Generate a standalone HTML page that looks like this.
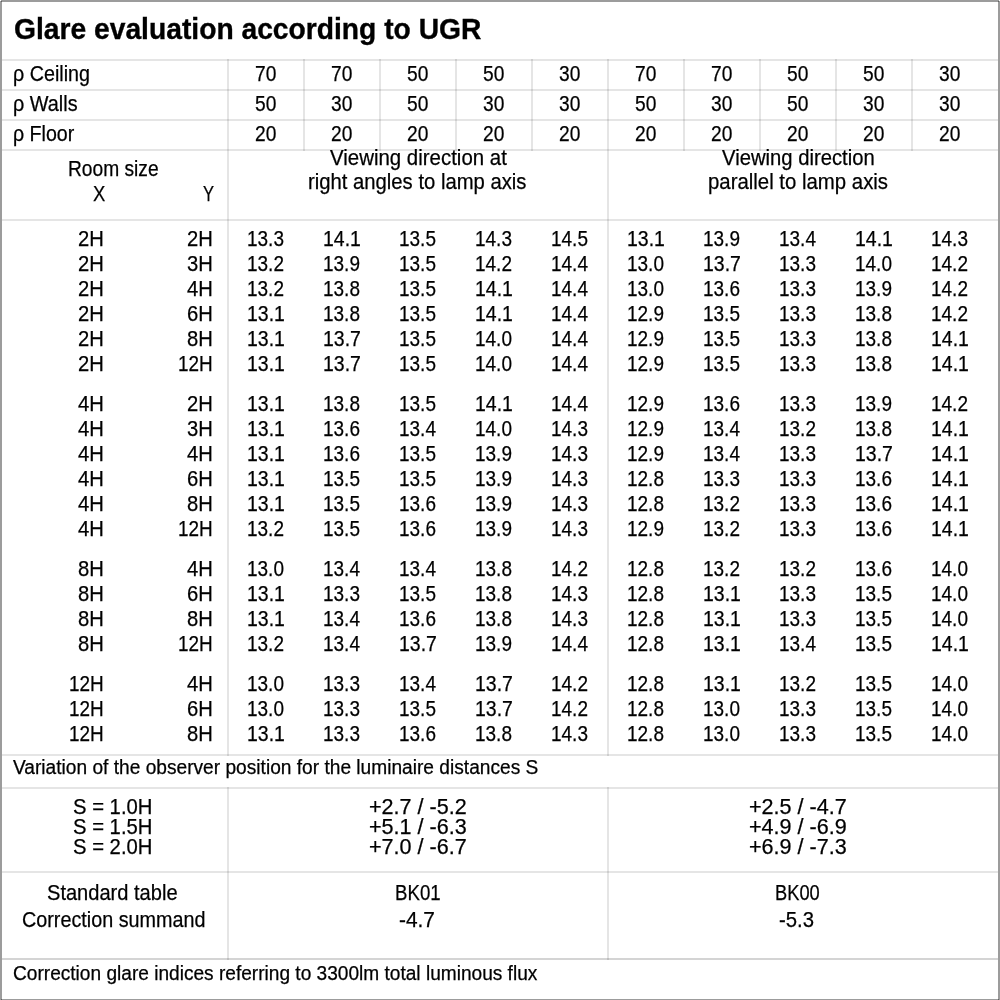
<!DOCTYPE html>
<html><head><meta charset="utf-8"><style>
html,body{margin:0;padding:0;background:#fff}
body{width:1000px;height:1000px;position:relative;overflow:hidden;font-family:"Liberation Sans",sans-serif;color:#000}
span{position:absolute;white-space:pre;transform-origin:0 0;-webkit-text-stroke:0.25px #000}
.l{position:absolute;mix-blend-mode:multiply}
.b{position:absolute;left:0;top:0;width:1000px;height:1000px;box-sizing:border-box;border-style:solid;border-color:#9c9c9c;border-width:2px 2px 1px 2px}
</style></head><body>
<div class="l" style="left:2px;top:59px;width:996px;height:2px;background:#e5e5e5"></div><div class="l" style="left:2px;top:89px;width:996px;height:2px;background:#e5e5e5"></div><div class="l" style="left:2px;top:119px;width:996px;height:2px;background:#e5e5e5"></div><div class="l" style="left:2px;top:149px;width:996px;height:2px;background:#e5e5e5"></div><div class="l" style="left:2px;top:219px;width:996px;height:2px;background:#e5e5e5"></div><div class="l" style="left:2px;top:754px;width:996px;height:2px;background:#e5e5e5"></div><div class="l" style="left:2px;top:787px;width:996px;height:2px;background:#e5e5e5"></div><div class="l" style="left:2px;top:871px;width:996px;height:2px;background:#e5e5e5"></div><div class="l" style="left:2px;top:958px;width:996px;height:2px;background:#d4d4d4"></div><div class="l" style="left:227px;top:59px;width:2px;height:697px;background:#e5e5e5"></div><div class="l" style="left:227px;top:787px;width:2px;height:173px;background:#e5e5e5"></div><div class="l" style="left:607px;top:59px;width:2px;height:697px;background:#e5e5e5"></div><div class="l" style="left:607px;top:787px;width:2px;height:173px;background:#e5e5e5"></div><div class="l" style="left:303px;top:59px;width:2px;height:92px;background:#e5e5e5"></div><div class="l" style="left:379px;top:59px;width:2px;height:92px;background:#e5e5e5"></div><div class="l" style="left:455px;top:59px;width:2px;height:92px;background:#e5e5e5"></div><div class="l" style="left:531px;top:59px;width:2px;height:92px;background:#e5e5e5"></div><div class="l" style="left:683px;top:59px;width:2px;height:92px;background:#e5e5e5"></div><div class="l" style="left:759px;top:59px;width:2px;height:92px;background:#e5e5e5"></div><div class="l" style="left:835px;top:59px;width:2px;height:92px;background:#e5e5e5"></div><div class="l" style="left:911px;top:59px;width:2px;height:92px;background:#e5e5e5"></div>
<div class="l" style="left:1px;top:0;width:998px;height:2px;background:#9c9c9c"></div><div class="l" style="left:0;top:1px;width:2px;height:999px;background:#9c9c9c"></div><div class="l" style="left:998px;top:1px;width:2px;height:999px;background:#9c9c9c"></div><div class="l" style="left:1px;top:999px;width:998px;height:1px;background:#9c9c9c"></div>
<span style="left:13.62px;top:15.22px;font-size:28.8px;line-height:28.8px;font-weight:700;-webkit-text-stroke:0.35px #000;transform:scaleX(0.9802)">Glare evaluation according to UGR</span><span style="left:12.88px;top:63.80px;font-size:21.5px;line-height:21.5px;transform:scaleX(0.9171)">ρ Ceiling</span><span style="left:12.88px;top:93.80px;font-size:21.5px;line-height:21.5px;transform:scaleX(0.9232)">ρ Walls</span><span style="left:12.89px;top:123.80px;font-size:21.5px;line-height:21.5px;transform:scaleX(0.9121)">ρ Floor</span><span style="left:255.36px;top:63.80px;font-size:21.5px;line-height:21.5px;transform:scaleX(0.8913)">70</span><span style="left:331.36px;top:63.80px;font-size:21.5px;line-height:21.5px;transform:scaleX(0.8913)">70</span><span style="left:407.36px;top:63.80px;font-size:21.5px;line-height:21.5px;transform:scaleX(0.8913)">50</span><span style="left:483.36px;top:63.80px;font-size:21.5px;line-height:21.5px;transform:scaleX(0.8913)">50</span><span style="left:559.36px;top:63.80px;font-size:21.5px;line-height:21.5px;transform:scaleX(0.8913)">30</span><span style="left:635.36px;top:63.80px;font-size:21.5px;line-height:21.5px;transform:scaleX(0.8913)">70</span><span style="left:711.36px;top:63.80px;font-size:21.5px;line-height:21.5px;transform:scaleX(0.8913)">70</span><span style="left:787.36px;top:63.80px;font-size:21.5px;line-height:21.5px;transform:scaleX(0.8913)">50</span><span style="left:863.36px;top:63.80px;font-size:21.5px;line-height:21.5px;transform:scaleX(0.8913)">50</span><span style="left:939.36px;top:63.80px;font-size:21.5px;line-height:21.5px;transform:scaleX(0.8913)">30</span><span style="left:255.36px;top:93.80px;font-size:21.5px;line-height:21.5px;transform:scaleX(0.8913)">50</span><span style="left:331.36px;top:93.80px;font-size:21.5px;line-height:21.5px;transform:scaleX(0.8913)">30</span><span style="left:407.36px;top:93.80px;font-size:21.5px;line-height:21.5px;transform:scaleX(0.8913)">50</span><span style="left:483.36px;top:93.80px;font-size:21.5px;line-height:21.5px;transform:scaleX(0.8913)">30</span><span style="left:559.36px;top:93.80px;font-size:21.5px;line-height:21.5px;transform:scaleX(0.8913)">30</span><span style="left:635.36px;top:93.80px;font-size:21.5px;line-height:21.5px;transform:scaleX(0.8913)">50</span><span style="left:711.36px;top:93.80px;font-size:21.5px;line-height:21.5px;transform:scaleX(0.8913)">30</span><span style="left:787.36px;top:93.80px;font-size:21.5px;line-height:21.5px;transform:scaleX(0.8913)">50</span><span style="left:863.36px;top:93.80px;font-size:21.5px;line-height:21.5px;transform:scaleX(0.8913)">30</span><span style="left:939.36px;top:93.80px;font-size:21.5px;line-height:21.5px;transform:scaleX(0.8913)">30</span><span style="left:255.36px;top:123.80px;font-size:21.5px;line-height:21.5px;transform:scaleX(0.8913)">20</span><span style="left:331.36px;top:123.80px;font-size:21.5px;line-height:21.5px;transform:scaleX(0.8913)">20</span><span style="left:407.36px;top:123.80px;font-size:21.5px;line-height:21.5px;transform:scaleX(0.8913)">20</span><span style="left:483.36px;top:123.80px;font-size:21.5px;line-height:21.5px;transform:scaleX(0.8913)">20</span><span style="left:559.36px;top:123.80px;font-size:21.5px;line-height:21.5px;transform:scaleX(0.8913)">20</span><span style="left:635.36px;top:123.80px;font-size:21.5px;line-height:21.5px;transform:scaleX(0.8913)">20</span><span style="left:711.36px;top:123.80px;font-size:21.5px;line-height:21.5px;transform:scaleX(0.8913)">20</span><span style="left:787.36px;top:123.80px;font-size:21.5px;line-height:21.5px;transform:scaleX(0.8913)">20</span><span style="left:863.36px;top:123.80px;font-size:21.5px;line-height:21.5px;transform:scaleX(0.8913)">20</span><span style="left:939.36px;top:123.80px;font-size:21.5px;line-height:21.5px;transform:scaleX(0.8913)">20</span><span style="left:67.86px;top:158.55px;font-size:21.5px;line-height:21.5px;transform:scaleX(0.8925)">Room size</span><span style="left:92.80px;top:183.55px;font-size:21.5px;line-height:21.5px;transform:scaleX(0.8571)">X</span><span style="left:203.00px;top:183.55px;font-size:21.5px;line-height:21.5px;transform:scaleX(0.7679)">Y</span><span style="left:330.20px;top:148.20px;font-size:21.5px;line-height:21.5px;transform:scaleX(0.9505)">Viewing direction at</span><span style="left:308.16px;top:172.10px;font-size:21.5px;line-height:21.5px;transform:scaleX(0.9424)">right angles to lamp axis</span><span style="left:722.30px;top:148.20px;font-size:21.5px;line-height:21.5px;transform:scaleX(0.9414)">Viewing direction</span><span style="left:707.95px;top:172.10px;font-size:21.5px;line-height:21.5px;transform:scaleX(0.9476)">parallel to lamp axis</span><span style="left:77.92px;top:229.05px;font-size:21.5px;line-height:21.5px;transform:scaleX(0.9400)">2H</span><span style="left:186.82px;top:229.05px;font-size:21.5px;line-height:21.5px;transform:scaleX(0.9400)">2H</span><span style="left:247.02px;top:229.05px;font-size:21.5px;line-height:21.5px;transform:scaleX(0.8829)">13.3</span><span style="left:323.00px;top:229.05px;font-size:21.5px;line-height:21.5px;transform:scaleX(0.9050)">14.1</span><span style="left:399.02px;top:229.05px;font-size:21.5px;line-height:21.5px;transform:scaleX(0.8829)">13.5</span><span style="left:475.02px;top:229.05px;font-size:21.5px;line-height:21.5px;transform:scaleX(0.8829)">14.3</span><span style="left:551.02px;top:229.05px;font-size:21.5px;line-height:21.5px;transform:scaleX(0.8829)">14.5</span><span style="left:627.00px;top:229.05px;font-size:21.5px;line-height:21.5px;transform:scaleX(0.9050)">13.1</span><span style="left:703.02px;top:229.05px;font-size:21.5px;line-height:21.5px;transform:scaleX(0.8829)">13.9</span><span style="left:779.02px;top:229.05px;font-size:21.5px;line-height:21.5px;transform:scaleX(0.8829)">13.4</span><span style="left:855.00px;top:229.05px;font-size:21.5px;line-height:21.5px;transform:scaleX(0.9050)">14.1</span><span style="left:931.02px;top:229.05px;font-size:21.5px;line-height:21.5px;transform:scaleX(0.8829)">14.3</span><span style="left:77.92px;top:254.05px;font-size:21.5px;line-height:21.5px;transform:scaleX(0.9400)">2H</span><span style="left:186.82px;top:254.05px;font-size:21.5px;line-height:21.5px;transform:scaleX(0.9400)">3H</span><span style="left:247.02px;top:254.05px;font-size:21.5px;line-height:21.5px;transform:scaleX(0.8829)">13.2</span><span style="left:323.02px;top:254.05px;font-size:21.5px;line-height:21.5px;transform:scaleX(0.8829)">13.9</span><span style="left:399.02px;top:254.05px;font-size:21.5px;line-height:21.5px;transform:scaleX(0.8829)">13.5</span><span style="left:475.02px;top:254.05px;font-size:21.5px;line-height:21.5px;transform:scaleX(0.8829)">14.2</span><span style="left:551.02px;top:254.05px;font-size:21.5px;line-height:21.5px;transform:scaleX(0.8829)">14.4</span><span style="left:627.02px;top:254.05px;font-size:21.5px;line-height:21.5px;transform:scaleX(0.8829)">13.0</span><span style="left:703.00px;top:254.05px;font-size:21.5px;line-height:21.5px;transform:scaleX(0.9050)">13.7</span><span style="left:779.02px;top:254.05px;font-size:21.5px;line-height:21.5px;transform:scaleX(0.8829)">13.3</span><span style="left:855.02px;top:254.05px;font-size:21.5px;line-height:21.5px;transform:scaleX(0.8829)">14.0</span><span style="left:931.02px;top:254.05px;font-size:21.5px;line-height:21.5px;transform:scaleX(0.8829)">14.2</span><span style="left:77.92px;top:279.05px;font-size:21.5px;line-height:21.5px;transform:scaleX(0.9400)">2H</span><span style="left:186.82px;top:279.05px;font-size:21.5px;line-height:21.5px;transform:scaleX(0.9400)">4H</span><span style="left:247.02px;top:279.05px;font-size:21.5px;line-height:21.5px;transform:scaleX(0.8829)">13.2</span><span style="left:323.02px;top:279.05px;font-size:21.5px;line-height:21.5px;transform:scaleX(0.8829)">13.8</span><span style="left:399.02px;top:279.05px;font-size:21.5px;line-height:21.5px;transform:scaleX(0.8829)">13.5</span><span style="left:475.00px;top:279.05px;font-size:21.5px;line-height:21.5px;transform:scaleX(0.9050)">14.1</span><span style="left:551.02px;top:279.05px;font-size:21.5px;line-height:21.5px;transform:scaleX(0.8829)">14.4</span><span style="left:627.02px;top:279.05px;font-size:21.5px;line-height:21.5px;transform:scaleX(0.8829)">13.0</span><span style="left:703.02px;top:279.05px;font-size:21.5px;line-height:21.5px;transform:scaleX(0.8829)">13.6</span><span style="left:779.02px;top:279.05px;font-size:21.5px;line-height:21.5px;transform:scaleX(0.8829)">13.3</span><span style="left:855.02px;top:279.05px;font-size:21.5px;line-height:21.5px;transform:scaleX(0.8829)">13.9</span><span style="left:931.02px;top:279.05px;font-size:21.5px;line-height:21.5px;transform:scaleX(0.8829)">14.2</span><span style="left:77.92px;top:304.05px;font-size:21.5px;line-height:21.5px;transform:scaleX(0.9400)">2H</span><span style="left:186.82px;top:304.05px;font-size:21.5px;line-height:21.5px;transform:scaleX(0.9400)">6H</span><span style="left:247.00px;top:304.05px;font-size:21.5px;line-height:21.5px;transform:scaleX(0.9050)">13.1</span><span style="left:323.02px;top:304.05px;font-size:21.5px;line-height:21.5px;transform:scaleX(0.8829)">13.8</span><span style="left:399.02px;top:304.05px;font-size:21.5px;line-height:21.5px;transform:scaleX(0.8829)">13.5</span><span style="left:475.00px;top:304.05px;font-size:21.5px;line-height:21.5px;transform:scaleX(0.9050)">14.1</span><span style="left:551.02px;top:304.05px;font-size:21.5px;line-height:21.5px;transform:scaleX(0.8829)">14.4</span><span style="left:627.02px;top:304.05px;font-size:21.5px;line-height:21.5px;transform:scaleX(0.8829)">12.9</span><span style="left:703.02px;top:304.05px;font-size:21.5px;line-height:21.5px;transform:scaleX(0.8829)">13.5</span><span style="left:779.02px;top:304.05px;font-size:21.5px;line-height:21.5px;transform:scaleX(0.8829)">13.3</span><span style="left:855.02px;top:304.05px;font-size:21.5px;line-height:21.5px;transform:scaleX(0.8829)">13.8</span><span style="left:931.02px;top:304.05px;font-size:21.5px;line-height:21.5px;transform:scaleX(0.8829)">14.2</span><span style="left:77.92px;top:329.05px;font-size:21.5px;line-height:21.5px;transform:scaleX(0.9400)">2H</span><span style="left:186.82px;top:329.05px;font-size:21.5px;line-height:21.5px;transform:scaleX(0.9400)">8H</span><span style="left:247.00px;top:329.05px;font-size:21.5px;line-height:21.5px;transform:scaleX(0.9050)">13.1</span><span style="left:323.00px;top:329.05px;font-size:21.5px;line-height:21.5px;transform:scaleX(0.9050)">13.7</span><span style="left:399.02px;top:329.05px;font-size:21.5px;line-height:21.5px;transform:scaleX(0.8829)">13.5</span><span style="left:475.02px;top:329.05px;font-size:21.5px;line-height:21.5px;transform:scaleX(0.8829)">14.0</span><span style="left:551.02px;top:329.05px;font-size:21.5px;line-height:21.5px;transform:scaleX(0.8829)">14.4</span><span style="left:627.02px;top:329.05px;font-size:21.5px;line-height:21.5px;transform:scaleX(0.8829)">12.9</span><span style="left:703.02px;top:329.05px;font-size:21.5px;line-height:21.5px;transform:scaleX(0.8829)">13.5</span><span style="left:779.02px;top:329.05px;font-size:21.5px;line-height:21.5px;transform:scaleX(0.8829)">13.3</span><span style="left:855.02px;top:329.05px;font-size:21.5px;line-height:21.5px;transform:scaleX(0.8829)">13.8</span><span style="left:931.00px;top:329.05px;font-size:21.5px;line-height:21.5px;transform:scaleX(0.9050)">14.1</span><span style="left:77.92px;top:354.05px;font-size:21.5px;line-height:21.5px;transform:scaleX(0.9400)">2H</span><span style="left:177.88px;top:354.05px;font-size:21.5px;line-height:21.5px;transform:scaleX(0.8800)">12H</span><span style="left:247.00px;top:354.05px;font-size:21.5px;line-height:21.5px;transform:scaleX(0.9050)">13.1</span><span style="left:323.00px;top:354.05px;font-size:21.5px;line-height:21.5px;transform:scaleX(0.9050)">13.7</span><span style="left:399.02px;top:354.05px;font-size:21.5px;line-height:21.5px;transform:scaleX(0.8829)">13.5</span><span style="left:475.02px;top:354.05px;font-size:21.5px;line-height:21.5px;transform:scaleX(0.8829)">14.0</span><span style="left:551.02px;top:354.05px;font-size:21.5px;line-height:21.5px;transform:scaleX(0.8829)">14.4</span><span style="left:627.02px;top:354.05px;font-size:21.5px;line-height:21.5px;transform:scaleX(0.8829)">12.9</span><span style="left:703.02px;top:354.05px;font-size:21.5px;line-height:21.5px;transform:scaleX(0.8829)">13.5</span><span style="left:779.02px;top:354.05px;font-size:21.5px;line-height:21.5px;transform:scaleX(0.8829)">13.3</span><span style="left:855.02px;top:354.05px;font-size:21.5px;line-height:21.5px;transform:scaleX(0.8829)">13.8</span><span style="left:931.00px;top:354.05px;font-size:21.5px;line-height:21.5px;transform:scaleX(0.9050)">14.1</span><span style="left:77.92px;top:394.05px;font-size:21.5px;line-height:21.5px;transform:scaleX(0.9400)">4H</span><span style="left:186.82px;top:394.05px;font-size:21.5px;line-height:21.5px;transform:scaleX(0.9400)">2H</span><span style="left:247.00px;top:394.05px;font-size:21.5px;line-height:21.5px;transform:scaleX(0.9050)">13.1</span><span style="left:323.02px;top:394.05px;font-size:21.5px;line-height:21.5px;transform:scaleX(0.8829)">13.8</span><span style="left:399.02px;top:394.05px;font-size:21.5px;line-height:21.5px;transform:scaleX(0.8829)">13.5</span><span style="left:475.00px;top:394.05px;font-size:21.5px;line-height:21.5px;transform:scaleX(0.9050)">14.1</span><span style="left:551.02px;top:394.05px;font-size:21.5px;line-height:21.5px;transform:scaleX(0.8829)">14.4</span><span style="left:627.02px;top:394.05px;font-size:21.5px;line-height:21.5px;transform:scaleX(0.8829)">12.9</span><span style="left:703.02px;top:394.05px;font-size:21.5px;line-height:21.5px;transform:scaleX(0.8829)">13.6</span><span style="left:779.02px;top:394.05px;font-size:21.5px;line-height:21.5px;transform:scaleX(0.8829)">13.3</span><span style="left:855.02px;top:394.05px;font-size:21.5px;line-height:21.5px;transform:scaleX(0.8829)">13.9</span><span style="left:931.02px;top:394.05px;font-size:21.5px;line-height:21.5px;transform:scaleX(0.8829)">14.2</span><span style="left:77.92px;top:419.05px;font-size:21.5px;line-height:21.5px;transform:scaleX(0.9400)">4H</span><span style="left:186.82px;top:419.05px;font-size:21.5px;line-height:21.5px;transform:scaleX(0.9400)">3H</span><span style="left:247.00px;top:419.05px;font-size:21.5px;line-height:21.5px;transform:scaleX(0.9050)">13.1</span><span style="left:323.02px;top:419.05px;font-size:21.5px;line-height:21.5px;transform:scaleX(0.8829)">13.6</span><span style="left:399.02px;top:419.05px;font-size:21.5px;line-height:21.5px;transform:scaleX(0.8829)">13.4</span><span style="left:475.02px;top:419.05px;font-size:21.5px;line-height:21.5px;transform:scaleX(0.8829)">14.0</span><span style="left:551.02px;top:419.05px;font-size:21.5px;line-height:21.5px;transform:scaleX(0.8829)">14.3</span><span style="left:627.02px;top:419.05px;font-size:21.5px;line-height:21.5px;transform:scaleX(0.8829)">12.9</span><span style="left:703.02px;top:419.05px;font-size:21.5px;line-height:21.5px;transform:scaleX(0.8829)">13.4</span><span style="left:779.02px;top:419.05px;font-size:21.5px;line-height:21.5px;transform:scaleX(0.8829)">13.2</span><span style="left:855.02px;top:419.05px;font-size:21.5px;line-height:21.5px;transform:scaleX(0.8829)">13.8</span><span style="left:931.00px;top:419.05px;font-size:21.5px;line-height:21.5px;transform:scaleX(0.9050)">14.1</span><span style="left:77.92px;top:444.05px;font-size:21.5px;line-height:21.5px;transform:scaleX(0.9400)">4H</span><span style="left:186.82px;top:444.05px;font-size:21.5px;line-height:21.5px;transform:scaleX(0.9400)">4H</span><span style="left:247.00px;top:444.05px;font-size:21.5px;line-height:21.5px;transform:scaleX(0.9050)">13.1</span><span style="left:323.02px;top:444.05px;font-size:21.5px;line-height:21.5px;transform:scaleX(0.8829)">13.6</span><span style="left:399.02px;top:444.05px;font-size:21.5px;line-height:21.5px;transform:scaleX(0.8829)">13.5</span><span style="left:475.02px;top:444.05px;font-size:21.5px;line-height:21.5px;transform:scaleX(0.8829)">13.9</span><span style="left:551.02px;top:444.05px;font-size:21.5px;line-height:21.5px;transform:scaleX(0.8829)">14.3</span><span style="left:627.02px;top:444.05px;font-size:21.5px;line-height:21.5px;transform:scaleX(0.8829)">12.9</span><span style="left:703.02px;top:444.05px;font-size:21.5px;line-height:21.5px;transform:scaleX(0.8829)">13.4</span><span style="left:779.02px;top:444.05px;font-size:21.5px;line-height:21.5px;transform:scaleX(0.8829)">13.3</span><span style="left:855.00px;top:444.05px;font-size:21.5px;line-height:21.5px;transform:scaleX(0.9050)">13.7</span><span style="left:931.00px;top:444.05px;font-size:21.5px;line-height:21.5px;transform:scaleX(0.9050)">14.1</span><span style="left:77.92px;top:469.05px;font-size:21.5px;line-height:21.5px;transform:scaleX(0.9400)">4H</span><span style="left:186.82px;top:469.05px;font-size:21.5px;line-height:21.5px;transform:scaleX(0.9400)">6H</span><span style="left:247.00px;top:469.05px;font-size:21.5px;line-height:21.5px;transform:scaleX(0.9050)">13.1</span><span style="left:323.02px;top:469.05px;font-size:21.5px;line-height:21.5px;transform:scaleX(0.8829)">13.5</span><span style="left:399.02px;top:469.05px;font-size:21.5px;line-height:21.5px;transform:scaleX(0.8829)">13.5</span><span style="left:475.02px;top:469.05px;font-size:21.5px;line-height:21.5px;transform:scaleX(0.8829)">13.9</span><span style="left:551.02px;top:469.05px;font-size:21.5px;line-height:21.5px;transform:scaleX(0.8829)">14.3</span><span style="left:627.02px;top:469.05px;font-size:21.5px;line-height:21.5px;transform:scaleX(0.8829)">12.8</span><span style="left:703.02px;top:469.05px;font-size:21.5px;line-height:21.5px;transform:scaleX(0.8829)">13.3</span><span style="left:779.02px;top:469.05px;font-size:21.5px;line-height:21.5px;transform:scaleX(0.8829)">13.3</span><span style="left:855.02px;top:469.05px;font-size:21.5px;line-height:21.5px;transform:scaleX(0.8829)">13.6</span><span style="left:931.00px;top:469.05px;font-size:21.5px;line-height:21.5px;transform:scaleX(0.9050)">14.1</span><span style="left:77.92px;top:494.05px;font-size:21.5px;line-height:21.5px;transform:scaleX(0.9400)">4H</span><span style="left:186.82px;top:494.05px;font-size:21.5px;line-height:21.5px;transform:scaleX(0.9400)">8H</span><span style="left:247.00px;top:494.05px;font-size:21.5px;line-height:21.5px;transform:scaleX(0.9050)">13.1</span><span style="left:323.02px;top:494.05px;font-size:21.5px;line-height:21.5px;transform:scaleX(0.8829)">13.5</span><span style="left:399.02px;top:494.05px;font-size:21.5px;line-height:21.5px;transform:scaleX(0.8829)">13.6</span><span style="left:475.02px;top:494.05px;font-size:21.5px;line-height:21.5px;transform:scaleX(0.8829)">13.9</span><span style="left:551.02px;top:494.05px;font-size:21.5px;line-height:21.5px;transform:scaleX(0.8829)">14.3</span><span style="left:627.02px;top:494.05px;font-size:21.5px;line-height:21.5px;transform:scaleX(0.8829)">12.8</span><span style="left:703.02px;top:494.05px;font-size:21.5px;line-height:21.5px;transform:scaleX(0.8829)">13.2</span><span style="left:779.02px;top:494.05px;font-size:21.5px;line-height:21.5px;transform:scaleX(0.8829)">13.3</span><span style="left:855.02px;top:494.05px;font-size:21.5px;line-height:21.5px;transform:scaleX(0.8829)">13.6</span><span style="left:931.00px;top:494.05px;font-size:21.5px;line-height:21.5px;transform:scaleX(0.9050)">14.1</span><span style="left:77.92px;top:519.05px;font-size:21.5px;line-height:21.5px;transform:scaleX(0.9400)">4H</span><span style="left:177.88px;top:519.05px;font-size:21.5px;line-height:21.5px;transform:scaleX(0.8800)">12H</span><span style="left:247.02px;top:519.05px;font-size:21.5px;line-height:21.5px;transform:scaleX(0.8829)">13.2</span><span style="left:323.02px;top:519.05px;font-size:21.5px;line-height:21.5px;transform:scaleX(0.8829)">13.5</span><span style="left:399.02px;top:519.05px;font-size:21.5px;line-height:21.5px;transform:scaleX(0.8829)">13.6</span><span style="left:475.02px;top:519.05px;font-size:21.5px;line-height:21.5px;transform:scaleX(0.8829)">13.9</span><span style="left:551.02px;top:519.05px;font-size:21.5px;line-height:21.5px;transform:scaleX(0.8829)">14.3</span><span style="left:627.02px;top:519.05px;font-size:21.5px;line-height:21.5px;transform:scaleX(0.8829)">12.9</span><span style="left:703.02px;top:519.05px;font-size:21.5px;line-height:21.5px;transform:scaleX(0.8829)">13.2</span><span style="left:779.02px;top:519.05px;font-size:21.5px;line-height:21.5px;transform:scaleX(0.8829)">13.3</span><span style="left:855.02px;top:519.05px;font-size:21.5px;line-height:21.5px;transform:scaleX(0.8829)">13.6</span><span style="left:931.00px;top:519.05px;font-size:21.5px;line-height:21.5px;transform:scaleX(0.9050)">14.1</span><span style="left:77.92px;top:559.05px;font-size:21.5px;line-height:21.5px;transform:scaleX(0.9400)">8H</span><span style="left:186.82px;top:559.05px;font-size:21.5px;line-height:21.5px;transform:scaleX(0.9400)">4H</span><span style="left:247.02px;top:559.05px;font-size:21.5px;line-height:21.5px;transform:scaleX(0.8829)">13.0</span><span style="left:323.02px;top:559.05px;font-size:21.5px;line-height:21.5px;transform:scaleX(0.8829)">13.4</span><span style="left:399.02px;top:559.05px;font-size:21.5px;line-height:21.5px;transform:scaleX(0.8829)">13.4</span><span style="left:475.02px;top:559.05px;font-size:21.5px;line-height:21.5px;transform:scaleX(0.8829)">13.8</span><span style="left:551.02px;top:559.05px;font-size:21.5px;line-height:21.5px;transform:scaleX(0.8829)">14.2</span><span style="left:627.02px;top:559.05px;font-size:21.5px;line-height:21.5px;transform:scaleX(0.8829)">12.8</span><span style="left:703.02px;top:559.05px;font-size:21.5px;line-height:21.5px;transform:scaleX(0.8829)">13.2</span><span style="left:779.02px;top:559.05px;font-size:21.5px;line-height:21.5px;transform:scaleX(0.8829)">13.2</span><span style="left:855.02px;top:559.05px;font-size:21.5px;line-height:21.5px;transform:scaleX(0.8829)">13.6</span><span style="left:931.02px;top:559.05px;font-size:21.5px;line-height:21.5px;transform:scaleX(0.8829)">14.0</span><span style="left:77.92px;top:584.05px;font-size:21.5px;line-height:21.5px;transform:scaleX(0.9400)">8H</span><span style="left:186.82px;top:584.05px;font-size:21.5px;line-height:21.5px;transform:scaleX(0.9400)">6H</span><span style="left:247.00px;top:584.05px;font-size:21.5px;line-height:21.5px;transform:scaleX(0.9050)">13.1</span><span style="left:323.02px;top:584.05px;font-size:21.5px;line-height:21.5px;transform:scaleX(0.8829)">13.3</span><span style="left:399.02px;top:584.05px;font-size:21.5px;line-height:21.5px;transform:scaleX(0.8829)">13.5</span><span style="left:475.02px;top:584.05px;font-size:21.5px;line-height:21.5px;transform:scaleX(0.8829)">13.8</span><span style="left:551.02px;top:584.05px;font-size:21.5px;line-height:21.5px;transform:scaleX(0.8829)">14.3</span><span style="left:627.02px;top:584.05px;font-size:21.5px;line-height:21.5px;transform:scaleX(0.8829)">12.8</span><span style="left:703.00px;top:584.05px;font-size:21.5px;line-height:21.5px;transform:scaleX(0.9050)">13.1</span><span style="left:779.02px;top:584.05px;font-size:21.5px;line-height:21.5px;transform:scaleX(0.8829)">13.3</span><span style="left:855.02px;top:584.05px;font-size:21.5px;line-height:21.5px;transform:scaleX(0.8829)">13.5</span><span style="left:931.02px;top:584.05px;font-size:21.5px;line-height:21.5px;transform:scaleX(0.8829)">14.0</span><span style="left:77.92px;top:609.05px;font-size:21.5px;line-height:21.5px;transform:scaleX(0.9400)">8H</span><span style="left:186.82px;top:609.05px;font-size:21.5px;line-height:21.5px;transform:scaleX(0.9400)">8H</span><span style="left:247.00px;top:609.05px;font-size:21.5px;line-height:21.5px;transform:scaleX(0.9050)">13.1</span><span style="left:323.02px;top:609.05px;font-size:21.5px;line-height:21.5px;transform:scaleX(0.8829)">13.4</span><span style="left:399.02px;top:609.05px;font-size:21.5px;line-height:21.5px;transform:scaleX(0.8829)">13.6</span><span style="left:475.02px;top:609.05px;font-size:21.5px;line-height:21.5px;transform:scaleX(0.8829)">13.8</span><span style="left:551.02px;top:609.05px;font-size:21.5px;line-height:21.5px;transform:scaleX(0.8829)">14.3</span><span style="left:627.02px;top:609.05px;font-size:21.5px;line-height:21.5px;transform:scaleX(0.8829)">12.8</span><span style="left:703.00px;top:609.05px;font-size:21.5px;line-height:21.5px;transform:scaleX(0.9050)">13.1</span><span style="left:779.02px;top:609.05px;font-size:21.5px;line-height:21.5px;transform:scaleX(0.8829)">13.3</span><span style="left:855.02px;top:609.05px;font-size:21.5px;line-height:21.5px;transform:scaleX(0.8829)">13.5</span><span style="left:931.02px;top:609.05px;font-size:21.5px;line-height:21.5px;transform:scaleX(0.8829)">14.0</span><span style="left:77.92px;top:634.05px;font-size:21.5px;line-height:21.5px;transform:scaleX(0.9400)">8H</span><span style="left:177.88px;top:634.05px;font-size:21.5px;line-height:21.5px;transform:scaleX(0.8800)">12H</span><span style="left:247.02px;top:634.05px;font-size:21.5px;line-height:21.5px;transform:scaleX(0.8829)">13.2</span><span style="left:323.02px;top:634.05px;font-size:21.5px;line-height:21.5px;transform:scaleX(0.8829)">13.4</span><span style="left:399.00px;top:634.05px;font-size:21.5px;line-height:21.5px;transform:scaleX(0.9050)">13.7</span><span style="left:475.02px;top:634.05px;font-size:21.5px;line-height:21.5px;transform:scaleX(0.8829)">13.9</span><span style="left:551.02px;top:634.05px;font-size:21.5px;line-height:21.5px;transform:scaleX(0.8829)">14.4</span><span style="left:627.02px;top:634.05px;font-size:21.5px;line-height:21.5px;transform:scaleX(0.8829)">12.8</span><span style="left:703.00px;top:634.05px;font-size:21.5px;line-height:21.5px;transform:scaleX(0.9050)">13.1</span><span style="left:779.02px;top:634.05px;font-size:21.5px;line-height:21.5px;transform:scaleX(0.8829)">13.4</span><span style="left:855.02px;top:634.05px;font-size:21.5px;line-height:21.5px;transform:scaleX(0.8829)">13.5</span><span style="left:931.00px;top:634.05px;font-size:21.5px;line-height:21.5px;transform:scaleX(0.9050)">14.1</span><span style="left:68.98px;top:674.05px;font-size:21.5px;line-height:21.5px;transform:scaleX(0.8800)">12H</span><span style="left:186.82px;top:674.05px;font-size:21.5px;line-height:21.5px;transform:scaleX(0.9400)">4H</span><span style="left:247.02px;top:674.05px;font-size:21.5px;line-height:21.5px;transform:scaleX(0.8829)">13.0</span><span style="left:323.02px;top:674.05px;font-size:21.5px;line-height:21.5px;transform:scaleX(0.8829)">13.3</span><span style="left:399.02px;top:674.05px;font-size:21.5px;line-height:21.5px;transform:scaleX(0.8829)">13.4</span><span style="left:475.00px;top:674.05px;font-size:21.5px;line-height:21.5px;transform:scaleX(0.9050)">13.7</span><span style="left:551.02px;top:674.05px;font-size:21.5px;line-height:21.5px;transform:scaleX(0.8829)">14.2</span><span style="left:627.02px;top:674.05px;font-size:21.5px;line-height:21.5px;transform:scaleX(0.8829)">12.8</span><span style="left:703.00px;top:674.05px;font-size:21.5px;line-height:21.5px;transform:scaleX(0.9050)">13.1</span><span style="left:779.02px;top:674.05px;font-size:21.5px;line-height:21.5px;transform:scaleX(0.8829)">13.2</span><span style="left:855.02px;top:674.05px;font-size:21.5px;line-height:21.5px;transform:scaleX(0.8829)">13.5</span><span style="left:931.02px;top:674.05px;font-size:21.5px;line-height:21.5px;transform:scaleX(0.8829)">14.0</span><span style="left:68.98px;top:699.05px;font-size:21.5px;line-height:21.5px;transform:scaleX(0.8800)">12H</span><span style="left:186.82px;top:699.05px;font-size:21.5px;line-height:21.5px;transform:scaleX(0.9400)">6H</span><span style="left:247.02px;top:699.05px;font-size:21.5px;line-height:21.5px;transform:scaleX(0.8829)">13.0</span><span style="left:323.02px;top:699.05px;font-size:21.5px;line-height:21.5px;transform:scaleX(0.8829)">13.3</span><span style="left:399.02px;top:699.05px;font-size:21.5px;line-height:21.5px;transform:scaleX(0.8829)">13.5</span><span style="left:475.00px;top:699.05px;font-size:21.5px;line-height:21.5px;transform:scaleX(0.9050)">13.7</span><span style="left:551.02px;top:699.05px;font-size:21.5px;line-height:21.5px;transform:scaleX(0.8829)">14.2</span><span style="left:627.02px;top:699.05px;font-size:21.5px;line-height:21.5px;transform:scaleX(0.8829)">12.8</span><span style="left:703.02px;top:699.05px;font-size:21.5px;line-height:21.5px;transform:scaleX(0.8829)">13.0</span><span style="left:779.02px;top:699.05px;font-size:21.5px;line-height:21.5px;transform:scaleX(0.8829)">13.3</span><span style="left:855.02px;top:699.05px;font-size:21.5px;line-height:21.5px;transform:scaleX(0.8829)">13.5</span><span style="left:931.02px;top:699.05px;font-size:21.5px;line-height:21.5px;transform:scaleX(0.8829)">14.0</span><span style="left:68.98px;top:724.05px;font-size:21.5px;line-height:21.5px;transform:scaleX(0.8800)">12H</span><span style="left:186.82px;top:724.05px;font-size:21.5px;line-height:21.5px;transform:scaleX(0.9400)">8H</span><span style="left:247.00px;top:724.05px;font-size:21.5px;line-height:21.5px;transform:scaleX(0.9050)">13.1</span><span style="left:323.02px;top:724.05px;font-size:21.5px;line-height:21.5px;transform:scaleX(0.8829)">13.3</span><span style="left:399.02px;top:724.05px;font-size:21.5px;line-height:21.5px;transform:scaleX(0.8829)">13.6</span><span style="left:475.02px;top:724.05px;font-size:21.5px;line-height:21.5px;transform:scaleX(0.8829)">13.8</span><span style="left:551.02px;top:724.05px;font-size:21.5px;line-height:21.5px;transform:scaleX(0.8829)">14.3</span><span style="left:627.02px;top:724.05px;font-size:21.5px;line-height:21.5px;transform:scaleX(0.8829)">12.8</span><span style="left:703.02px;top:724.05px;font-size:21.5px;line-height:21.5px;transform:scaleX(0.8829)">13.0</span><span style="left:779.02px;top:724.05px;font-size:21.5px;line-height:21.5px;transform:scaleX(0.8829)">13.3</span><span style="left:855.02px;top:724.05px;font-size:21.5px;line-height:21.5px;transform:scaleX(0.8829)">13.5</span><span style="left:931.02px;top:724.05px;font-size:21.5px;line-height:21.5px;transform:scaleX(0.8829)">14.0</span><span style="left:13.00px;top:758.49px;font-size:19.5px;line-height:19.5px;transform:scaleX(0.9817)">Variation of the observer position for the luminaire distances S</span><span style="left:73.31px;top:796.55px;font-size:21.5px;line-height:21.5px;transform:scaleX(0.9428)">S = 1.0H</span><span style="left:368.87px;top:797.05px;font-size:21.5px;line-height:21.5px;transform:scaleX(1.0026)">+2.7 / -5.2</span><span style="left:748.87px;top:797.05px;font-size:21.5px;line-height:21.5px;transform:scaleX(1.0026)">+2.5 / -4.7</span><span style="left:73.31px;top:816.55px;font-size:21.5px;line-height:21.5px;transform:scaleX(0.9428)">S = 1.5H</span><span style="left:368.87px;top:817.05px;font-size:21.5px;line-height:21.5px;transform:scaleX(1.0026)">+5.1 / -6.3</span><span style="left:748.87px;top:817.05px;font-size:21.5px;line-height:21.5px;transform:scaleX(1.0026)">+4.9 / -6.9</span><span style="left:73.31px;top:836.55px;font-size:21.5px;line-height:21.5px;transform:scaleX(0.9428)">S = 2.0H</span><span style="left:368.87px;top:837.05px;font-size:21.5px;line-height:21.5px;transform:scaleX(1.0026)">+7.0 / -6.7</span><span style="left:748.87px;top:837.05px;font-size:21.5px;line-height:21.5px;transform:scaleX(1.0026)">+6.9 / -7.3</span><span style="left:47.32px;top:883.30px;font-size:21.5px;line-height:21.5px;transform:scaleX(0.9335)">Standard table</span><span style="left:21.60px;top:909.90px;font-size:21.5px;line-height:21.5px;transform:scaleX(0.9191)">Correction summand</span><span style="left:395.01px;top:883.30px;font-size:21.5px;line-height:21.5px;transform:scaleX(0.8676)">BK01</span><span style="left:399.43px;top:909.90px;font-size:21.5px;line-height:21.5px;transform:scaleX(0.9714)">-4.7</span><span style="left:775.02px;top:883.30px;font-size:21.5px;line-height:21.5px;transform:scaleX(0.8510)">BK00</span><span style="left:779.46px;top:909.90px;font-size:21.5px;line-height:21.5px;transform:scaleX(0.9444)">-5.3</span><span style="left:13.30px;top:964.49px;font-size:19.5px;line-height:19.5px;transform:scaleX(0.9793)">Correction glare indices referring to 3300lm total luminous flux</span>
</body></html>
